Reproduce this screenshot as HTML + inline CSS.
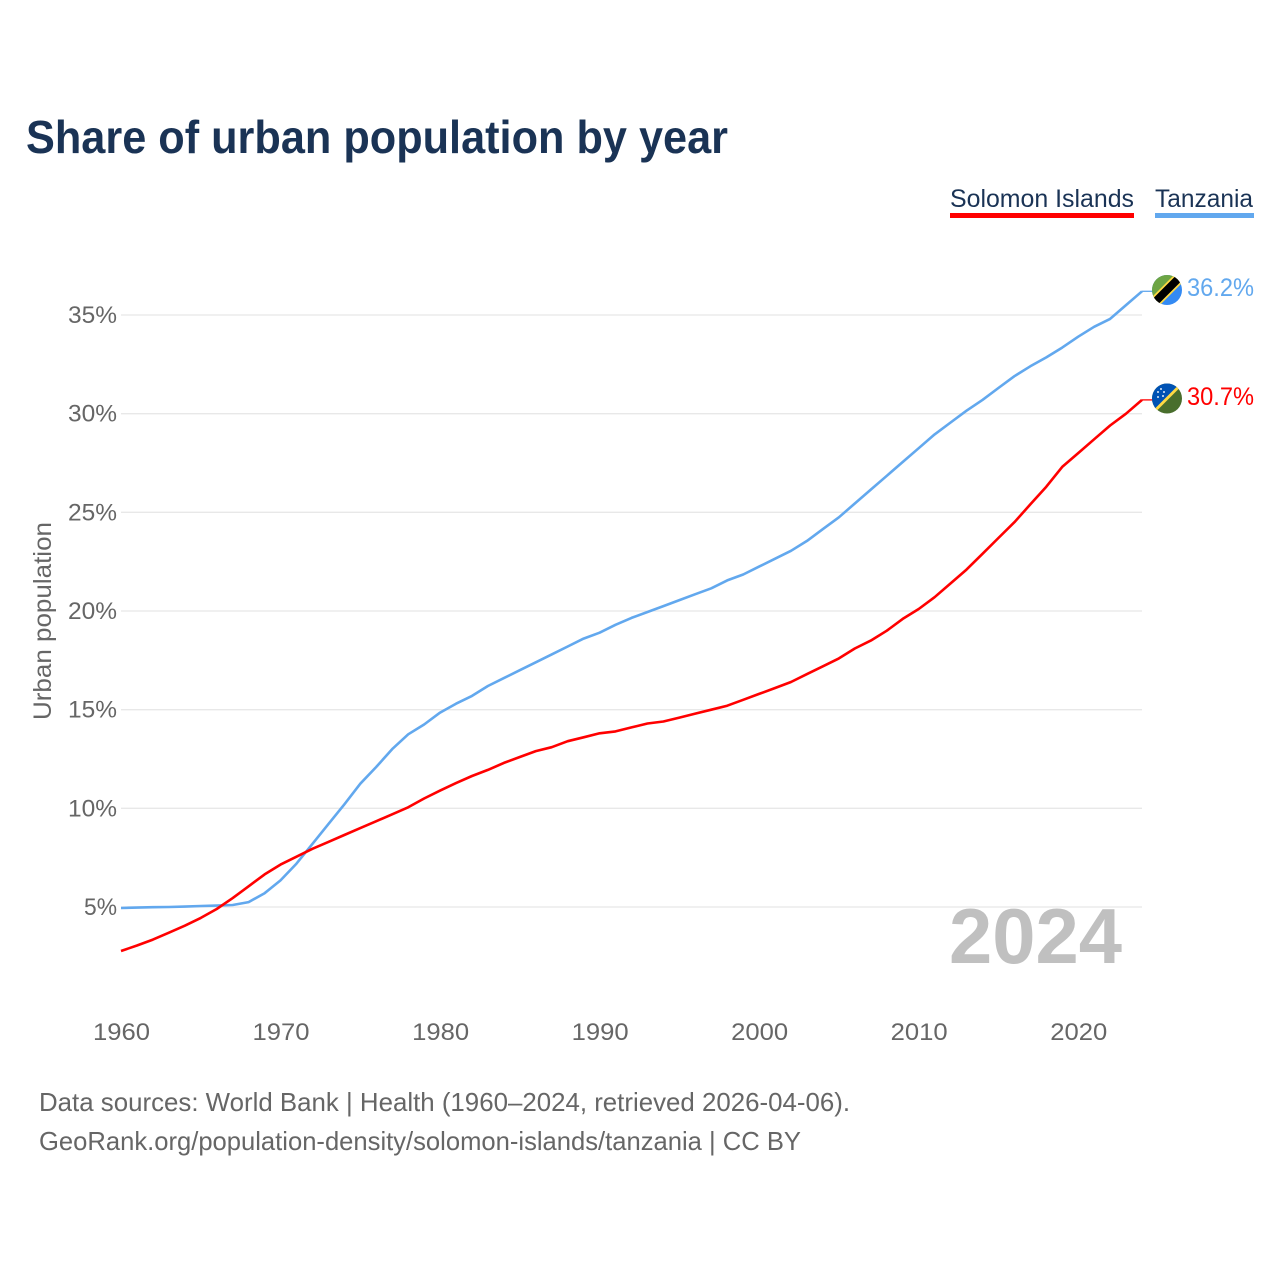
<!DOCTYPE html>
<html lang="en">
<head>
<meta charset="utf-8">
<title>Share of urban population by year</title>
<style>
html,body{margin:0;padding:0;background:#fff;width:1280px;height:1280px;overflow:hidden}
svg{display:block}
text{font-family:"Liberation Sans",sans-serif}
</style>
</head>
<body>
<svg id="chart" width="1280" height="1280" viewBox="0 0 1280 1280" xmlns="http://www.w3.org/2000/svg">
  <defs>
    <clipPath id="clip-tz"><circle cx="1167" cy="290" r="15"/></clipPath>
    <clipPath id="clip-sb"><circle cx="1167" cy="398.5" r="15"/></clipPath>
  </defs>
  <rect width="1280" height="1280" fill="#fff"/>
  <text x="26" y="153" font-size="46" font-weight="700" fill="#1a3355" textLength="702" lengthAdjust="spacingAndGlyphs">Share of urban population by year</text>

  <g>
    <text x="950" y="207" font-size="25" fill="#1a3355" textLength="184" lengthAdjust="spacingAndGlyphs">Solomon Islands</text>
    <rect x="950" y="213" width="184" height="5" fill="#ff0000"/>
  </g>
  <g>
    <text x="1155" y="207" font-size="25" fill="#1a3355" textLength="98" lengthAdjust="spacingAndGlyphs">Tanzania</text>
    <rect x="1155" y="213" width="99" height="5" fill="#62a8ee"/>
  </g>

  <g id="grid"></g>
  <g id="y-ticks"></g>
  <g id="x-ticks"></g>

  <text transform="translate(51 621) rotate(-90)" text-anchor="middle" font-size="25" fill="#666" textLength="198" lengthAdjust="spacingAndGlyphs">Urban population</text>

  <text x="949" y="963" font-size="78" font-weight="700" fill="#c0c0c0" textLength="173" lengthAdjust="spacingAndGlyphs">2024</text>

  <g id="series"></g>

  <g clip-path="url(#clip-tz)">
    <rect x="1150" y="273" width="34" height="34" fill="#338af3"/>
    <polygon points="1150,273 1184,273 1150,307" fill="#6da544"/>
    <polygon points="1145,304 1185,264 1193,272 1153,312" fill="#ffda44"/>
    <polygon points="1147,304.5 1187,264.5 1192.5,270 1152.5,310" fill="#000"/>
  </g>
  <g clip-path="url(#clip-sb)">
    <rect x="1150" y="381" width="34" height="36" fill="#496e2d"/>
    <polygon points="1150,381 1184,381 1150,415" fill="#0052b4"/>
    <polygon points="1147,416.5 1185,378.5 1187,380.5 1149,418.5" fill="#ffda44"/>
    <g fill="#dfe9f6">
      <circle cx="1158" cy="392" r="1"/><circle cx="1164" cy="392" r="1"/>
      <circle cx="1161" cy="389" r="1"/><circle cx="1158" cy="397" r="1"/><circle cx="1163" cy="396" r="1"/>
    </g>
  </g>

  <g id="end-labels"></g>

  <text x="39" y="1111" font-size="26" fill="#666" textLength="811" lengthAdjust="spacingAndGlyphs">Data sources: World Bank | Health (1960–2024, retrieved 2026-04-06).</text>
  <text x="39" y="1150" font-size="26" fill="#666" textLength="762" lengthAdjust="spacingAndGlyphs">GeoRank.org/population-density/solomon-islands/tanzania | CC BY</text>
</svg>
<script>
const years = [1960,1961,1962,1963,1964,1965,1966,1967,1968,1969,1970,1971,1972,1973,1974,1975,1976,1977,1978,1979,1980,1981,1982,1983,1984,1985,1986,1987,1988,1989,1990,1991,1992,1993,1994,1995,1996,1997,1998,1999,2000,2001,2002,2003,2004,2005,2006,2007,2008,2009,2010,2011,2012,2013,2014,2015,2016,2017,2018,2019,2020,2021,2022,2023,2024];
const solomonIslands = [2.77,3.05,3.35,3.7,4.05,4.45,4.9,5.45,6.05,6.65,7.15,7.55,7.95,8.3,8.65,9.0,9.35,9.7,10.05,10.5,10.9,11.28,11.64,11.95,12.3,12.6,12.9,13.1,13.4,13.6,13.8,13.9,14.1,14.3,14.4,14.6,14.8,15.0,15.2,15.5,15.8,16.1,16.4,16.8,17.2,17.6,18.1,18.5,19.0,19.6,20.1,20.7,21.4,22.1,22.9,23.7,24.5,25.4,26.3,27.3,28.0,28.7,29.4,30.0,30.7];
const tanzania = [4.95,4.97,4.99,5.0,5.02,5.05,5.07,5.1,5.25,5.7,6.35,7.2,8.2,9.2,10.2,11.25,12.1,13.0,13.75,14.25,14.85,15.3,15.7,16.2,16.6,17.0,17.4,17.8,18.2,18.6,18.9,19.3,19.65,19.95,20.25,20.55,20.85,21.15,21.55,21.85,22.25,22.65,23.05,23.55,24.15,24.75,25.45,26.15,26.85,27.55,28.25,28.95,29.55,30.15,30.7,31.3,31.9,32.4,32.85,33.35,33.9,34.4,34.8,35.5,36.2];
const xTicks = [1960,1970,1980,1990,2000,2010,2020];
const yTicks = [5,10,15,20,25,30,35];

const NS = 'http://www.w3.org/2000/svg';
const xScale = function (year) { return 121 + (year - 1960) * (1142 - 121) / 64; };
const yScale = function (pct) { return 907 - (pct - 5) * (907 - 315) / 30; };

function make(tag, parent, attrs, content) {
  const el = document.createElementNS(NS, tag);
  for (const k in attrs) el.setAttribute(k, attrs[k]);
  if (content !== undefined) el.textContent = content;
  parent.appendChild(el);
  return el;
}

const gridG = document.getElementById('grid');
const yG = document.getElementById('y-ticks');
yTicks.forEach(function (t) {
  const line = make('line', gridG, {x1: 121, x2: 1142, y1: yScale(t), y2: yScale(t), stroke: '#e8e8e8', 'stroke-width': 1.3});
  
  
  const label = t + '%';
  const lab = make('text', yG, {x: 117, y: yScale(t) + 8, 'text-anchor': 'end', 'font-size': 24, fill: '#666', textLength: label.length === 2 ? 33 : 49, lengthAdjust: 'spacingAndGlyphs'}, label);
  
  
});

const xG = document.getElementById('x-ticks');
xTicks.forEach(function (t) {
  const lab = make('text', xG, {x: xScale(t) + 0.5, y: 1040, 'text-anchor': 'middle', 'font-size': 24, fill: '#666', textLength: 57, lengthAdjust: 'spacingAndGlyphs'}, String(t));
  
  
});

function pathFor(values) {
  return values.map(function (v, i) {
    return (i ? 'L' : 'M') + xScale(years[i]).toFixed(1) + ' ' + yScale(v).toFixed(1);
  }).join(' ');
}
function stubFor(values) {
  const y = yScale(values[values.length - 1]).toFixed(1);
  return 'M' + xScale(years[years.length - 1]).toFixed(1) + ' ' + y + ' L1153 ' + y;
}

const seriesG = document.getElementById('series');
const tzLine = make('path', seriesG, {d: pathFor(tanzania), fill: 'none', stroke: '#62a8ee', 'stroke-width': 2.6, 'stroke-linejoin': 'round'});


const sbLine = make('path', seriesG, {d: pathFor(solomonIslands), fill: 'none', stroke: '#ff0000', 'stroke-width': 2.6, 'stroke-linejoin': 'round'});


const tzStub = make('path', seriesG, {d: stubFor(tanzania), fill: 'none', stroke: '#62a8ee', 'stroke-width': 1.3});


const sbStub = make('path', seriesG, {d: stubFor(solomonIslands), fill: 'none', stroke: '#ff0000', 'stroke-width': 1.3});



const endG = document.getElementById('end-labels');
const tzVal = tanzania[tanzania.length - 1];
const sbVal = solomonIslands[solomonIslands.length - 1];
const tzLab = make('text', endG, {x: 1187, y: yScale(tzVal) + 4.5, 'font-size': 25, fill: '#62a8ee', textLength: 67, lengthAdjust: 'spacingAndGlyphs'}, tzVal.toFixed(1) + '%');


const sbLab = make('text', endG, {x: 1187, y: yScale(sbVal) + 5, 'font-size': 25, fill: '#ff0000', textLength: 67, lengthAdjust: 'spacingAndGlyphs'}, sbVal.toFixed(1) + '%');


</script>
</body>
</html>
